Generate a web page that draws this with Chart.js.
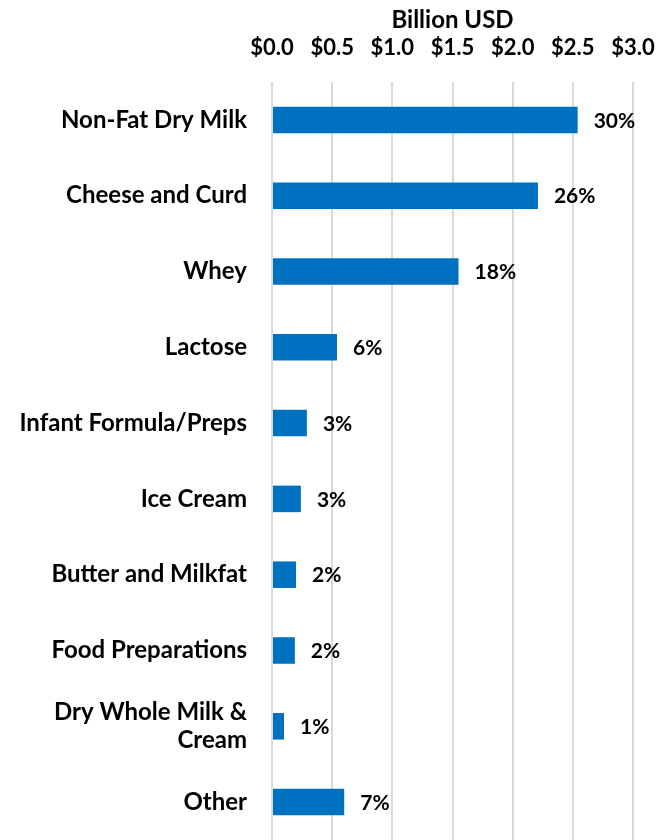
<!DOCTYPE html>
<html>
<head>
<meta charset="utf-8">
<script src="https://cdn.jsdelivr.net/npm/chart.js@4"></script>
<style>
  html, body { margin: 0; padding: 0; background: #fff; overflow: hidden; }
  #wrap { width: 658px; height: 840px; }
</style>
</head>
<body>
<div id="wrap"><canvas id="dairyChart" width="658" height="840"></canvas></div>
<script>
// Export categories and values (billion USD)
const categories = [
  'Non-Fat Dry Milk',
  'Cheese and Curd',
  'Whey',
  'Lactose',
  'Infant Formula/Preps',
  'Ice Cream',
  'Butter and Milkfat',
  'Food Preparations',
  ['Dry Whole Milk &', 'Cream'],
  'Other'
];
const valuesBillion = [2.54, 2.21, 1.55, 0.54, 0.29, 0.24, 0.20, 0.19, 0.10, 0.60];
const shareLabels = ['30%', '26%', '18%', '6%', '3%', '3%', '2%', '2%', '1%', '7%'];
const xTicks = [0, 0.5, 1.0, 1.5, 2.0, 2.5, 3.0];

const fontFamily = 'Lato, "Open Sans", sans-serif';

// Draw the percentage labels to the right of each bar
const shareLabelPlugin = {
  id: 'shareLabels',
  afterDatasetsDraw(chart) {
    const ctx = chart.ctx;
    const meta = chart.getDatasetMeta(0);
    ctx.save();
    ctx.font = 'bold 21px ' + fontFamily;
    ctx.fillStyle = '#000';
    ctx.textAlign = 'left';
    ctx.textBaseline = 'middle';
    meta.data.forEach((bar, i) => {
      ctx.fillText(shareLabels[i], bar.x + 16, bar.y + 1);
    });
    ctx.restore();
  }
};

const ctx = document.getElementById('dairyChart');

new Chart(ctx, {
  type: 'bar',
  data: {
    labels: categories,
    datasets: [{
      data: valuesBillion,
      backgroundColor: '#0070C0',
      borderWidth: 0,
      barPercentage: 0.35,
      categoryPercentage: 1.0
    }]
  },
  options: {
    indexAxis: 'y',
    responsive: false,
    animation: false,
    layout: {
      padding: { top: 0, right: 25, bottom: 0, left: 0 }
    },
    scales: {
      x: {
        position: 'top',
        min: 0,
        max: 3,
        afterBuildTicks: axis => {
          axis.ticks = xTicks.map(v => ({ value: v }));
        },
        // fixed header height, and keep label overflow from shrinking the plot
        afterFit: axis => {
          axis.height = 82;
          axis.paddingLeft = 0;
          axis.paddingRight = 0;
        },
        ticks: {
          color: '#000',
          font: { family: fontFamily, size: 22, weight: 'bold' },
          padding: 21,
          maxRotation: 0,
          callback: v => '$' + Number(v).toFixed(1)
        },
        grid: {
          color: '#d9d9d9',
          lineWidth: 2,
          drawTicks: false
        },
        border: { display: false },
        title: {
          display: true,
          text: 'Billion USD',
          color: '#000',
          font: { family: fontFamily, size: 24, weight: 'bold' },
          padding: { top: 6, bottom: 0 }
        }
      },
      y: {
        afterFit: axis => {
          axis.width = 272;
          axis.paddingTop = 0;
          axis.paddingBottom = 0;
        },
        ticks: {
          color: '#000',
          font: { family: fontFamily, size: 24, weight: 'bold' },
          padding: 25
        },
        grid: { display: false, drawTicks: false },
        border: { display: false }
      }
    },
    plugins: {
      legend: { display: false },
      tooltip: { enabled: false }
    }
  },
  plugins: [shareLabelPlugin]
});
</script>
</body>
</html>
